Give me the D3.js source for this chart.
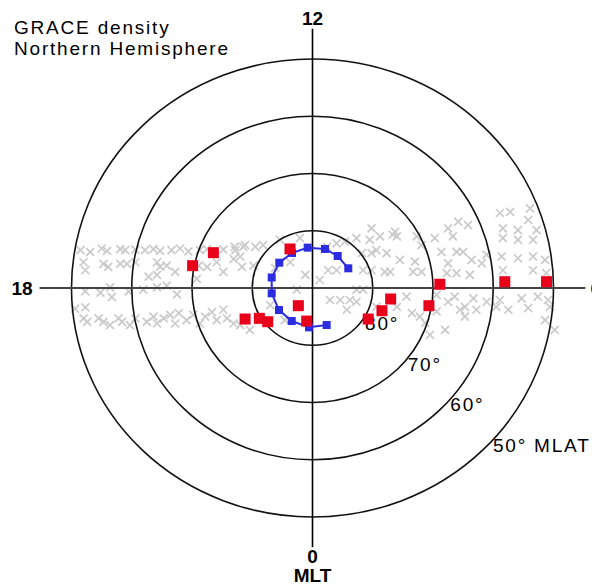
<!DOCTYPE html>
<html>
<head>
<meta charset="utf-8">
<script src="https://cdn.jsdelivr.net/npm/d3@7"></script>
<style>
  body { margin: 0; background: #fff; }
  text { font-family: "Liberation Sans", Arial, sans-serif; fill: #000; }
</style>
</head>
<body>
<div class="chart"></div>
<script>
// MLAT rings and their labels
const latitudes = [80, 70, 60, 50]
const latLabels = ['80°', '70°', '60°', '50° MLAT']
const titleLines = ['GRACE density', 'Northern Hemisphere']

// MLT labels: top, left, bottom, right
const mltLabels = ['12', '18', '0', '6']

// positions in the polar plane, degrees of colatitude
// [x: dusk(-) to dawn(+), y: midnight(-) to noon(+)]
const orbitPoints = [
  [-38.5,6.6],[-36.9,6.3],[-35.0,6.9],[-34.1,6.5],[-31.9,6.8],[-31.1,6.6],[-29.4,6.7],[-27.8,6.6],[-26.4,6.8],
  [-25.3,6.5],[-23.4,6.6],[-22.0,6.9],[-20.6,6.4],[-18.7,6.6],[-17.5,6.8],[-14.8,6.7],[-12.8,6.6],[-11.5,7.2],
  [-38.0,4.5],[-37.7,3.1],[-34.7,4.2],[-33.9,3.7],[-31.9,4.2],[-30.8,4.2],[-29.4,4.5],[-27.2,2.0],[-25.8,4.5],
  [-25.8,2.3],[-25.3,3.7],[-24.2,3.9],[-22.8,2.8],[-19.2,1.6],[-18.9,3.9],[-17.5,3.7],[-15.9,4.5],[-14.8,2.8],
  [-13.1,5.1],[-11.7,3.7],[-9.8,3.9],
  [-37.7,-0.6],[-35.2,-0.8],[-33.6,0.1],[-33.3,-1.6],[-30.5,-0.6],[-28.1,-0.3],[-25.8,0.1],[-24.2,0.4],[-22.5,-1.1],
  [-39.4,-3.6],[-37.7,-3.4],[-38.0,-5.3],[-37.4,-5.9],[-35.5,-5.3],[-34.7,-5.9],[-33.6,-6.5],[-32.2,-5.3],[-31.6,-5.9],
  [-30.3,-6.5],[-29.4,-5.3],[-27.5,-5.9],[-26.4,-5.0],[-25.8,-6.2],[-24.7,-5.3],[-23.6,-4.7],[-22.8,-6.2],[-22.2,-4.4],
  [-20.9,-5.6],[-19.8,-4.7],[-18.7,-6.2],[-17.8,-5.0],[-16.7,-4.2],[-15.9,-5.6],[-14.8,-3.8],[-14.2,-5.3],[-13.1,-6.2],
  [-12.9,7.2],[-11.2,7.5],[-9.5,7.2],[-12.0,5.5],[-8.2,7.5],[-5.4,8.4],[-2.1,8.7],[-6.2,3.5],[-3.7,4.5],[-1.2,2.3],
  [1.2,1.4],[-2.6,-0.3],[2.9,-2.1],[-7.0,-3.0],[-8.7,-5.6],[-4.6,-5.6],[-12.0,-6.5],[-10.4,-7.3],
  [2.4,7.2],[4.0,7.8],[5.4,8.1],[7.3,8.7],[9.5,8.4],[11.2,9.0],[13.3,9.3],[10.6,6.6],[12.3,6.1],[2.6,3.1],[4.0,3.1],
  [8.4,3.1],[9.8,3.1],[7.3,-0.3],[8.4,-0.3],[6.2,-2.1],[7.3,-2.4],[5.7,-3.8],
  [9.8,10.4],[13.7,9.8],[14.0,9.0],[17.3,9.0],[18.1,7.5],[20.3,8.7],[22.5,10.4],[24.2,11.6],[25.8,11.0],[23.3,9.0],
  [31.1,13.1],[32.8,13.3],[36.1,13.9],[35.8,11.9],[31.6,10.4],[34.1,10.1],[37.2,10.1],[31.6,8.7],[34.1,8.4],[36.6,8.4],
  [8.2,6.1],[9.8,6.1],[14.5,4.9],[17.0,4.6],[21.4,6.3],[22.5,4.3],[23.9,6.3],[25.0,6.3],[26.4,4.9],[28.1,4.3],
  [28.9,5.8],[31.4,5.5],[34.1,5.2],[36.6,5.5],[38.6,4.9],[31.6,3.1],[36.6,3.1],[38.8,2.6],
  [12.0,2.8],[12.9,2.8],[16.7,2.8],[18.1,2.8],[22.3,2.6],[23.9,2.6],[26.1,2.3],
  [4.6,-2.1],[15.6,-1.5],[20.6,-1.2],[22.5,-2.4],[23.6,-1.5],[26.7,-1.8],[28.9,-2.4],[31.1,-2.1],[32.5,-3.8],
  [34.7,-1.8],[35.8,-3.5],[39.1,-2.1],
  [10.6,-3.3],[14.0,-3.3],[16.5,-4.4],[17.8,-5.0],[20.6,-4.1],[24.5,-3.8],[27.2,-3.8],[30.5,-3.3],[37.4,-1.5],
  [39.4,-3.3],[25.3,-3.3],[25.3,-5.0],[18.7,-6.1],[22.0,-7.3],[19.5,-8.2],[38.6,-5.6],[40.2,-7.3]
]

// density peaks (red squares)
const peaks = [
  [-19.9,3.9],[-16.45,6.17],[-3.73,6.82],[-11.19,-5.42],[-8.82,-5.30],[-7.43,-5.89],[-2.35,-3.09],[-0.96,-5.77],
  [9.25,-5.42],[11.53,-3.97],[12.97,-1.92],[19.32,-3.09],[21.14,0.65],[31.92,1.10],[38.84,1.10]
]

// oval (blue squares, connected)
const oval = [
  [5.94,3.44],[4.18,5.59],[2.07,6.82],[-0.80,7.05],[-3.40,6.12],[-5.51,4.42],[-6.77,1.84],[-6.77,-0.93],
  [-5.56,-3.85],[-3.45,-5.77],[-0.58,-6.87],[2.35,-6.47]
]

const width = 592
const height = 586
const cx = 312.5
const cy = 288
const outer = 40      // colatitude of the 50 deg ring
const axisExtent = 45.3

const svg = d3.select('.chart')
  .append('svg')
  .attr('width', width)
  .attr('height', height)

const xScale = d3.scaleLinear()
  .domain([-outer, outer])
  .range([cx - 241, cx + 241])

const yScale = d3.scaleLinear()
  .domain([-outer, outer])
  .range([cy + 229, cy - 229])

// orbit samples (gray crosses)
const s = 4
svg.append('g')
  .selectAll('path')
  .data(orbitPoints)
  .enter()
  .append('path')
  .attr('d', d => {
    const x = xScale(d[0]), y = yScale(d[1])
    return `M${x - s},${y - s}L${x + s},${y + s}M${x - s},${y + s}L${x + s},${y - s}`
  })
  .attr('stroke', '#cacaca')
  .attr('stroke-width', 1.7)
  .attr('fill', 'none')

// MLAT rings
svg.append('g')
  .selectAll('ellipse')
  .data(latitudes)
  .enter()
  .append('ellipse')
  .attr('cx', xScale(0))
  .attr('cy', yScale(0))
  .attr('rx', d => xScale(90 - d) - xScale(0))
  .attr('ry', d => yScale(0) - yScale(90 - d))
  .attr('fill', 'none')
  .attr('stroke', '#111')
  .attr('stroke-width', 1.6)

// MLT axes
svg.append('line')
  .attr('x1', xScale(-axisExtent)).attr('x2', xScale(axisExtent))
  .attr('y1', yScale(0)).attr('y2', yScale(0))
  .attr('stroke', '#444')
  .attr('stroke-width', 2.2)

svg.append('line')
  .attr('x1', xScale(0)).attr('x2', xScale(0))
  .attr('y1', yScale(axisExtent)).attr('y2', yScale(-axisExtent))
  .attr('stroke', '#000')
  .attr('stroke-width', 1.6)

// MLT labels
const mltText = svg.append('g')
  .attr('font-size', 19)
  .attr('font-weight', 'bold')
mltText.append('text')
  .attr('x', xScale(0)).attr('y', yScale(axisExtent) - 4)
  .attr('text-anchor', 'middle')
  .text(mltLabels[0])
mltText.append('text')
  .attr('x', xScale(-axisExtent) - 7).attr('y', yScale(0) + 7)
  .attr('text-anchor', 'end')
  .text(mltLabels[1])
mltText.append('text')
  .attr('x', xScale(0)).attr('y', yScale(-axisExtent) + 16)
  .attr('text-anchor', 'middle')
  .text(mltLabels[2])
mltText.append('text')
  .attr('x', xScale(0)).attr('y', yScale(-axisExtent) + 35)
  .attr('text-anchor', 'middle')
  .text('MLT')
mltText.append('text')
  .attr('x', xScale(axisExtent) + 5).attr('y', yScale(0) + 7)
  .text(mltLabels[3])

// ring labels along the 03 MLT direction
svg.append('g')
  .selectAll('text')
  .data(latitudes)
  .enter()
  .append('text')
  .attr('x', d => xScale((90 - d) * Math.SQRT1_2) + 10)
  .attr('y', d => yScale(-(90 - d) * Math.SQRT1_2) + 2)
  .attr('font-size', 19)
  .attr('letter-spacing', 1.8)
  .text((d, i) => latLabels[i])

// title
svg.append('g')
  .selectAll('text')
  .data(titleLines)
  .enter()
  .append('text')
  .attr('x', 14)
  .attr('y', (d, i) => 34 + i * 21)
  .attr('font-size', 19)
  .attr('letter-spacing', 1.8)
  .text(d => d)

// oval
const line = d3.line()
  .x(d => xScale(d[0]))
  .y(d => yScale(d[1]))

svg.append('path')
  .datum(oval)
  .attr('d', line)
  .attr('fill', 'none')
  .attr('stroke', '#2b2be0')
  .attr('stroke-width', 2)

svg.append('g')
  .selectAll('rect')
  .data(oval)
  .enter()
  .append('rect')
  .attr('x', d => xScale(d[0]) - 4)
  .attr('y', d => yScale(d[1]) - 4)
  .attr('width', 8)
  .attr('height', 8)
  .attr('fill', '#2b2be0')

// density peaks
svg.append('g')
  .selectAll('rect')
  .data(peaks)
  .enter()
  .append('rect')
  .attr('x', d => xScale(d[0]) - 5.5)
  .attr('y', d => yScale(d[1]) - 5.5)
  .attr('width', 11)
  .attr('height', 11)
  .attr('fill', '#e8001a')
</script>
</body>
</html>
